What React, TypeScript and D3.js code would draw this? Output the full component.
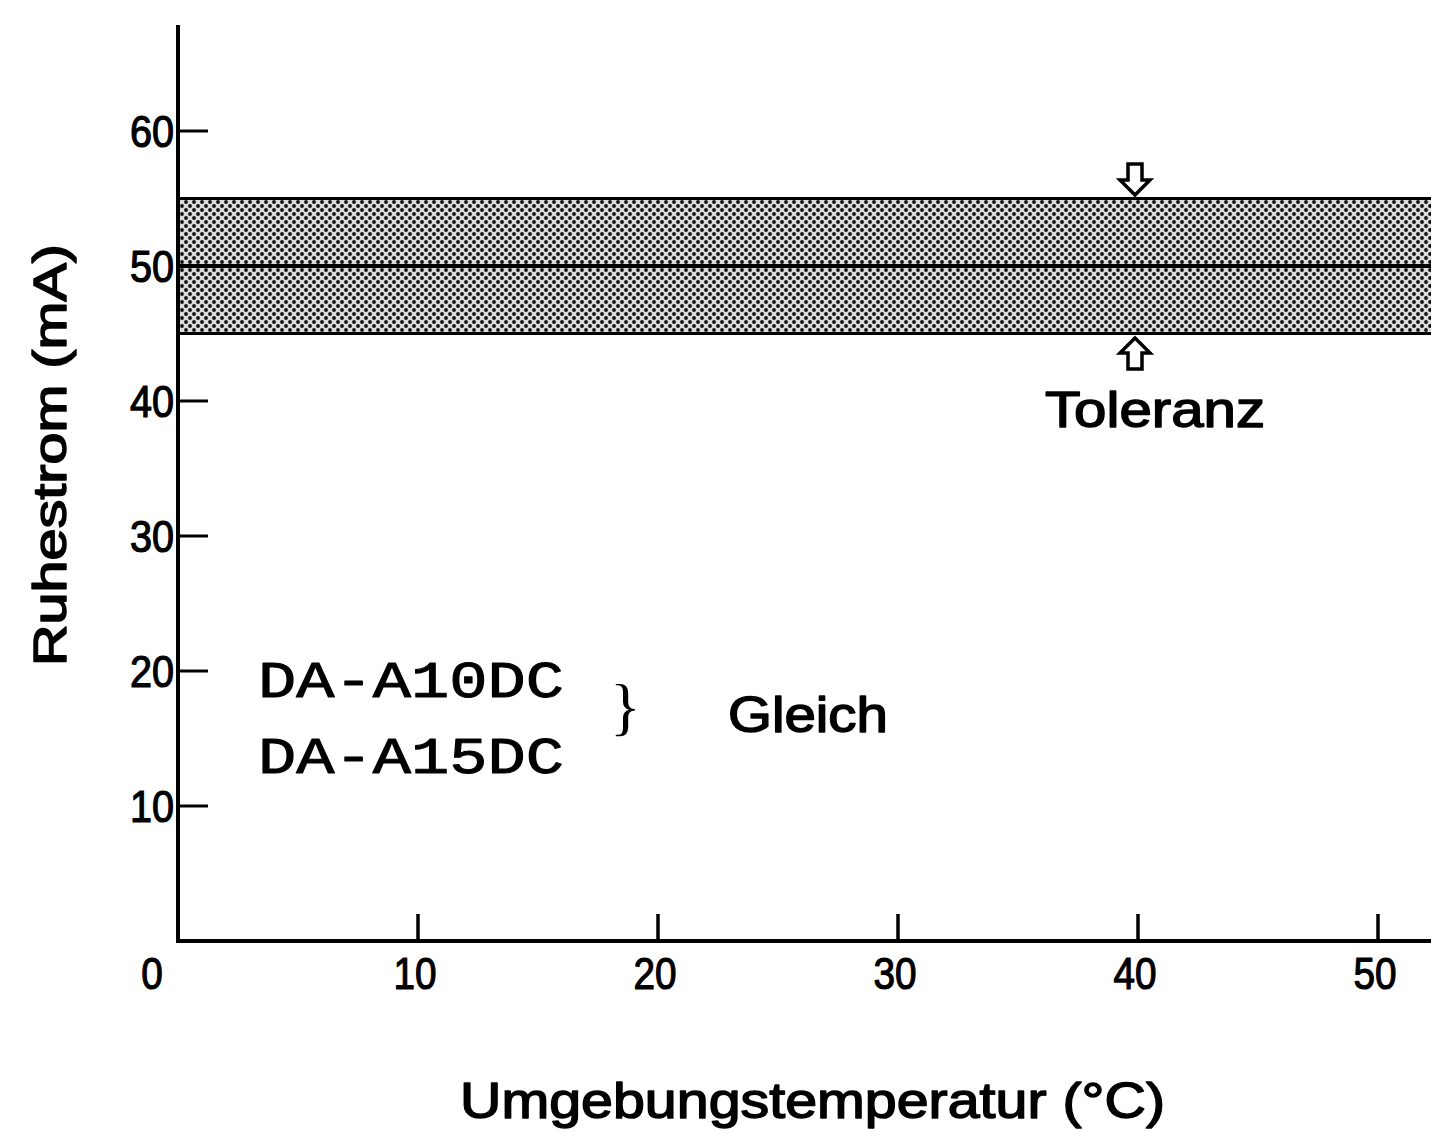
import * as d3 from 'd3';
import React, { useEffect, useRef } from 'react';

// tick values
const xTicks = [0, 10, 20, 30, 40, 50];
const yTicks = [10, 20, 30, 40, 50, 60];
// quiescent current band: nominal and tolerance
const nominal = 50;
const band = [45, 55];
const arrowAt = 40;
const models = ['DA-A10DC', 'DA-A15DC'];

const App = () => {
    const ref = useRef(null);

    useEffect(() => {
        const width = 1431;
        const height = 1132;
        const svg = d3.select(ref.current);
        svg.selectAll('*').remove();
        svg.attr('width', width).attr('height', height);

        const x = d3.scaleLinear().domain([0, 50]).range([178, 1378]);
        const y = d3.scaleLinear().domain([0, 60]).range([941, 131]);
        const sans = '"Liberation Sans", Arial, sans-serif';

        // dotted screen for the tolerance band
        const pat = svg.append('defs').append('pattern')
            .attr('id', 'dots')
            .attr('patternUnits', 'userSpaceOnUse')
            .attr('width', 8).attr('height', 8);
        pat.append('rect').attr('width', 8).attr('height', 8).attr('fill', '#dcdcdc');
        pat.append('circle').attr('cx', 2).attr('cy', 2).attr('r', 1.9).attr('fill', '#111');
        pat.append('circle').attr('cx', 6).attr('cy', 6).attr('r', 1.9).attr('fill', '#111');

        const xEnd = width;

        svg.append('rect')
            .attr('x', x(0))
            .attr('y', y(band[1]))
            .attr('width', xEnd - x(0))
            .attr('height', y(band[0]) - y(band[1]))
            .attr('fill', 'url(#dots)');

        [band[0], band[1]].forEach(v => {
            svg.append('line')
                .attr('x1', x(0)).attr('x2', xEnd)
                .attr('y1', y(v)).attr('y2', y(v))
                .attr('stroke', '#000').attr('stroke-width', 3);
        });
        svg.append('line')
            .attr('x1', x(0)).attr('x2', xEnd)
            .attr('y1', y(nominal)).attr('y2', y(nominal))
            .attr('stroke', '#000').attr('stroke-width', 4);

        // axes
        svg.append('line')
            .attr('x1', x(0)).attr('x2', x(0))
            .attr('y1', 25).attr('y2', y(0))
            .attr('stroke', '#000').attr('stroke-width', 4);
        svg.append('line')
            .attr('x1', x(0) - 2).attr('x2', xEnd)
            .attr('y1', y(0)).attr('y2', y(0))
            .attr('stroke', '#000').attr('stroke-width', 4);

        const heavy = (sel, w = 1.2) => sel.attr('stroke', '#000').attr('stroke-width', w).attr('stroke-linejoin', 'round');

        // y ticks point inward
        yTicks.forEach(v => {
            svg.append('line')
                .attr('x1', x(0)).attr('x2', x(0) + 30)
                .attr('y1', y(v)).attr('y2', y(v))
                .attr('stroke', '#000').attr('stroke-width', 3);
            const lx = x(0) - 4;
            heavy(svg.append('text')
                .attr('x', lx)
                .attr('y', y(v))
                .attr('dy', '0.36em')
                .attr('text-anchor', 'end')
                .attr('font-family', sans)
                .attr('font-size', 44)
                .attr('transform', `translate(${lx},${y(v)}) scale(0.9,1) translate(${-lx},${-y(v)})`)
                .text(v));
        });

        xTicks.forEach(v => {
            if (v > 0) {
                svg.append('line')
                    .attr('x1', x(v)).attr('x2', x(v))
                    .attr('y1', y(0)).attr('y2', y(0) - 27)
                    .attr('stroke', '#000').attr('stroke-width', 3.5);
            }
            const tx = v === 0 ? 152 : x(v) - 3;
            heavy(svg.append('text')
                .attr('x', tx)
                .attr('y', 989)
                .attr('text-anchor', 'middle')
                .attr('font-family', sans)
                .attr('font-size', 44)
                .attr('transform', `translate(${tx},989) scale(0.88,1) translate(${-tx},-989)`)
                .text(v));
        });

        // tolerance arrows (hollow)
        const ax = x(arrowAt) - 3;
        const down = (top) => `M${ax - 7},${top} h14 v16 h8 l-15,15 l-15,-15 h8 z`;
        const up = (bot) => `M${ax - 7},${bot} h14 v-16 h8 l-15,-15 l-15,15 h8 z`;
        svg.append('path').attr('d', down(164)).attr('fill', '#fff')
            .attr('stroke', '#000').attr('stroke-width', 3.5).attr('stroke-linejoin', 'miter');
        svg.append('path').attr('d', up(369)).attr('fill', '#fff')
            .attr('stroke', '#000').attr('stroke-width', 3.5).attr('stroke-linejoin', 'miter');

        heavy(svg.append('text')
            .attr('x', 1045).attr('y', 427)
            .attr('font-family', sans).attr('font-size', 50)
            .attr('textLength', 220).attr('lengthAdjust', 'spacingAndGlyphs')
            .text('Toleranz'), 1.5);

        // model labels
        models.forEach((m, i) => {
            heavy(svg.append('text')
                .attr('x', 258).attr('y', 697 + i * 76)
                .attr('font-family', '"Liberation Mono", "Courier New", monospace')
                .attr('font-size', 52)
                .attr('textLength', 306).attr('lengthAdjust', 'spacingAndGlyphs')
                .text(m), 1);
        });
        svg.append('text')
            .attr('x', 610).attr('y', 728)
            .attr('font-family', '"Liberation Serif", serif')
            .attr('font-size', 64)
            .text('}');
        heavy(svg.append('text')
            .attr('x', 728).attr('y', 732)
            .attr('font-family', sans).attr('font-size', 50)
            .attr('textLength', 160).attr('lengthAdjust', 'spacingAndGlyphs')
            .text('Gleich'), 1.5);

        // axis titles
        heavy(svg.append('text')
            .attr('transform', 'translate(66,455) rotate(-90)')
            .attr('text-anchor', 'middle')
            .attr('font-family', sans).attr('font-size', 46)
            .attr('textLength', 422).attr('lengthAdjust', 'spacingAndGlyphs')
            .text('Ruhestrom (mA)'), 1.5);
        heavy(svg.append('text')
            .attr('x', 460).attr('y', 1118)
            .attr('font-family', sans).attr('font-size', 50)
            .attr('textLength', 705).attr('lengthAdjust', 'spacingAndGlyphs')
            .text('Umgebungstemperatur (°C)'), 1.5);
    }, []);

    return <svg ref={ref} style={{ position: 'absolute', left: 0, top: 0, background: '#fff' }}></svg>;
};

export default App;
